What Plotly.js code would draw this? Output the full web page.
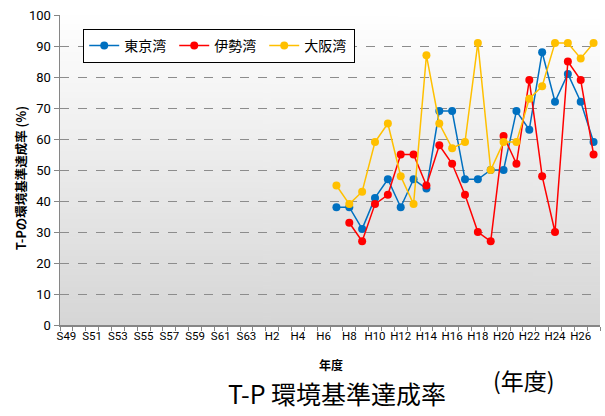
<!DOCTYPE html>
<html>
<head>
<meta charset="utf-8">
<script src="https://cdn.plot.ly/plotly-3.0.1.min.js"></script>
<style>
  body { margin: 0; background: #fff; }
  #chart { width: 605px; height: 416px; }
</style>
</head>
<body>
<div id="chart"></div>
<script>
// 年度: S49..S63, H1..H27
const years = [];
for (let i = 49; i <= 63; i++) years.push('S' + i);
for (let i = 1; i <= 27; i++) years.push('H' + i);

// values from H7 to H27 (earlier years have no data)
const startYear = 'H7';
const tokyo = [38, 38, 31, 41, 47, 38, 47, 44, 69, 69, 47, 47, 50, 50, 69, 63, 88, 72, 81, 72, 59];
const ise   = [null, 33, 27, 39, 42, 55, 55, 45, 58, 52, 42, 30, 27, 61, 52, 79, 48, 30, 85, 79, 55];
const osaka = [45, 39, 43, 59, 65, 48, 39, 87, 65, 57, 59, 91, 50, 59, 59, 73, 77, 91, 91, 86, 91];

const seriesNames = ['東京湾', '伊勢湾', '大阪湾'];
const seriesColors = ['#0070C0', '#FF0000', '#FFC000'];

function pad(vals) {
  const out = years.map(() => null);
  const s = years.indexOf(startYear);
  vals.forEach((v, i) => { out[s + i] = v; });
  return out;
}

const traces = [tokyo, ise, osaka].map((vals, k) => ({
  x: years,
  y: pad(vals),
  type: 'scatter',
  mode: 'lines+markers',
  name: seriesNames[k],
  line: { color: seriesColors[k], width: 1.5 },
  marker: { color: seriesColors[k], size: 8 },
  cliponaxis: false,
  connectgaps: false
}));

// gradient background for the plot area
const cv = document.createElement('canvas');
cv.width = 4; cv.height = 200;
const ctx = cv.getContext('2d');
const g = ctx.createLinearGradient(0, 0, 0, 200);
g.addColorStop(0, '#ffffff');
g.addColorStop(1, '#d6d6d6');
ctx.fillStyle = g;
ctx.fillRect(0, 0, 4, 200);

const tickText = years.map((y, i) => (i % 2 === 0 ? y : ''));
const jp = '"Noto Sans CJK JP", "Noto Sans", sans-serif';

function note(text, x, y, size, extra) {
  return Object.assign({
    text: text, xref: 'paper', yref: 'paper', x: x, y: y,
    xanchor: 'center', yanchor: 'middle', showarrow: false,
    font: { family: jp, size: size, color: '#000' }
  }, extra || {});
}

const layout = {
  width: 605,
  height: 416,
  margin: { l: 60, r: 5, t: 15, b: 91 },
  paper_bgcolor: '#ffffff',
  plot_bgcolor: 'rgba(0,0,0,0)',
  font: { family: 'Roboto, "Noto Sans CJK JP", sans-serif', size: 12, color: '#000' },
  showlegend: true,
  legend: {
    orientation: 'h',
    x: 0.043, y: 0.955, xanchor: 'left', yanchor: 'top',
    bgcolor: '#ffffff',
    bordercolor: '#000000',
    borderwidth: 1,
    font: { family: jp, size: 14, color: '#000' },
    itemwidth: 30,
    entrywidth: 45
  },
  xaxis: {
    type: 'category',
    tickmode: 'array',
    tickvals: years,
    ticktext: tickText,
    tickson: 'boundaries',
    ticks: 'outside',
    ticklen: 4,
    tickcolor: '#868686',
    tickangle: 0,
    tickfont: { family: 'Roboto, sans-serif', size: 11.5, color: '#000' },
    showline: true,
    linecolor: '#868686',
    linewidth: 1.5,
    showgrid: false,
    range: [-0.5, years.length - 0.5],
    fixedrange: true
  },
  yaxis: {
    range: [0, 100],
    tickvals: [0, 10, 20, 30, 40, 50, 60, 70, 80, 90, 100],
    ticks: 'outside',
    ticklen: 5,
    tickcolor: '#868686',
    tickfont: { family: 'Roboto, sans-serif', size: 13, color: '#000' },
    showline: true,
    linecolor: '#868686',
    linewidth: 1.5,
    showgrid: true,
    gridcolor: '#8c8c8c',
    griddash: 'dash',
    gridwidth: 1,
    zeroline: false,
    fixedrange: true
  },
  images: [{
    source: cv.toDataURL(),
    xref: 'paper', yref: 'paper',
    x: 0, y: 1, sizex: 1, sizey: 1,
    xanchor: 'left', yanchor: 'top',
    sizing: 'stretch',
    layer: 'below'
  }],
  annotations: [
    note('<b>T-Pの環境基準達成率 (%)</b>', -0.074, 0.474, 12.5, { textangle: -90 }),
    note('<b>年度</b>', 0.502, -0.129, 12),
    note('T-P 環境基準達成率', 0.513, -0.219, 25),
    note('(年度)', 0.859, -0.177, 23)
  ]
};

Plotly.newPlot('chart', traces, layout, { displayModeBar: false, staticPlot: true });
</script>
</body>
</html>
